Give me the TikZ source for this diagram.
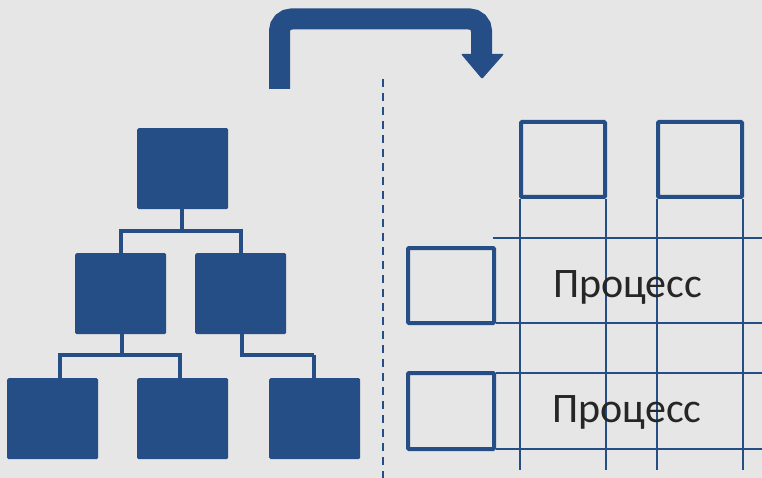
\documentclass[tikz,border=0pt]{standalone}
\usepackage{fontspec}
\newfontfamily\carlito{Carlito}
\definecolor{bgc}{HTML}{E6E6E6}
\definecolor{blu}{HTML}{264E86}
\definecolor{txt}{HTML}{262626}
\begin{document}
\begin{tikzpicture}[x=1pt,y=-1pt,
  fbox/.style={fill=blu,draw=none,rounded corners=1.5pt,minimum width=91pt,minimum height=81pt,inner sep=0pt,anchor=north west},
  obox/.style={draw=blu,line width=4pt,rounded corners=1pt,inner sep=0pt,anchor=center},
  tcon/.style={draw=blu,line width=4pt},
  grid/.style={draw=blu,line width=2pt},
  lbl/.style={font=\carlito\fontsize{42}{42}\selectfont,text=txt,anchor=base,inner sep=0pt}]
\fill[bgc] (0,0) rectangle (762,478);
\useasboundingbox (0,0) rectangle (762,478);
% tree
\node[fbox] (t) at (137,128) {};
\node[fbox] (m1) at (75,253) {};
\node[fbox] (m2) at (195,253) {};
\node[fbox] (b1) at (7,378) {};
\node[fbox] (b2) at (137,378) {};
\node[fbox] (b3) at (269,378) {};
\draw[tcon] ([xshift=-0.5pt]t.south) -- ++(0,22) coordinate (j1);
\draw[tcon,line cap=rect] (j1 -| m1.north) -- (j1 -| m2.north);
\draw[tcon] (j1 -| m1.north) -- (m1.north);
\draw[tcon] (j1 -| m2.north) -- (m2.north);
\draw[tcon] ([xshift=1.5pt]m1.south) -- ++(0,21) coordinate (j2);
\coordinate (b1c) at ([xshift=7.5pt]b1.north);
\coordinate (b2c) at ([xshift=-2.5pt]b2.north);
\draw[tcon,line cap=rect] (j2 -| b1c) -- (j2 -| b2c);
\draw[tcon] (j2 -| b1c) -- (b1c);
\draw[tcon] (j2 -| b2c) -- (b2c);
\coordinate (b3c) at ([xshift=-0.5pt]b3.north);
\draw[tcon] ([xshift=1.5pt]m2.south) |- ++(72,21) coordinate (j3);
\draw[tcon] (j3 -| b3c) -- (b3c);
% dashed divider
\coordinate (d1) at (383,79);
\coordinate (d2) at (383,478);
\draw[blu,line width=2pt,dash pattern=on 8pt off 6pt] (d1) -- (d2);
% bent arrow
\coordinate (a1) at (279.5,89);
\coordinate (a2) at (279.5,19);
\coordinate (a3) at (481.5,19);
\coordinate (a4) at (481.5,55);
\draw[blu,line width=21pt,rounded corners=12pt] (a1) -- (a2) -- (a3) -- (a4);
\fill[blu,rounded corners=1pt] (461,54) -- (504,54) -- (482,79) -- cycle;
% matrix
\node[obox,minimum width=84pt,minimum height=75pt] (ca) at (563,159.5) {};
\node[obox,minimum width=84pt,minimum height=75pt] (cb) at (700,159.5) {};
\node[obox,minimum width=86pt,minimum height=75pt] (ra) at (451,285.5) {};
\node[obox,minimum width=86pt,minimum height=76pt] (rb) at (451,411) {};
\coordinate (bot) at (0,470);
\draw[grid] ([xshift=1.3pt]ca.south west) -- ([xshift=1.3pt]ca.south west |- bot);
\draw[grid] ([xshift=-1pt]ca.south east) -- ([xshift=-1pt]ca.south east |- bot);
\draw[grid] ([xshift=1.3pt]cb.south west) -- ([xshift=1.3pt]cb.south west |- bot);
\draw[grid] ([xshift=-1.3pt]cb.south east) -- ([xshift=-1.3pt]cb.south east |- bot);
\coordinate (rt) at (762,0);
\coordinate (h1) at (493,238);
\draw[grid] (h1) -- (h1 -| rt);
\draw[grid] ([yshift=1.7pt]ra.south east) -- ([yshift=1.7pt]ra.south east -| rt);
\draw[grid] ([yshift=-2.3pt]rb.north east) -- ([yshift=-2.3pt]rb.north east -| rt);
\draw[grid] ([yshift=1.7pt]rb.south east) -- ([yshift=1.7pt]rb.south east -| rt);
\node[lbl] (p1) at (627.5,297.7) {Процесс};
\node[lbl] (p2) at (627,422.7) {Процесс};
\end{tikzpicture}
\end{document}
